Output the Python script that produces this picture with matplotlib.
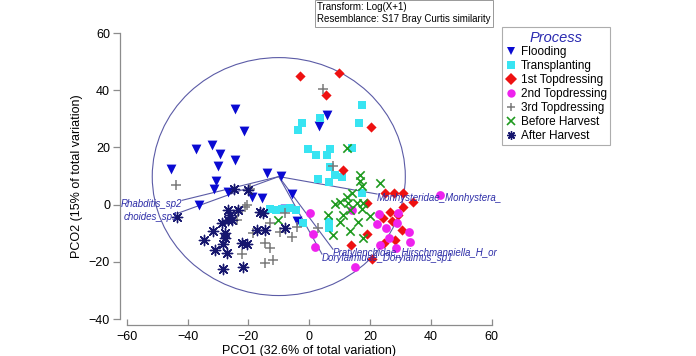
import matplotlib
matplotlib.use("Agg")
import matplotlib.pyplot as plt
from matplotlib.lines import Line2D
from matplotlib.patches import Circle

plt.rcParams['font.family'] = ['Liberation Sans', 'DejaVu Sans']

# ---------------- data ----------------
flood_x = [-45.4, -24.3, -21.4, -37.2, -32.0, -29.3, -29.9, -24.3, -30.6, -31.3, -26.7,
           -13.9, -9.3, -5.7, -18.8, -15.5, -36.2, -7.9, 5.9, 3.2, -4.0]
flood_y = [12.4, 33.4, 25.7, 19.4, 20.8, 17.7, 13.5, 15.6, 8.2, 5.4, 4.4,
           11.0, 10.0, 3.7, 2.6, 2.3, -0.2, -1.6, 31.3, 27.4, -5.8]

trans_x = [17.4, -2.4, -3.7, 3.6, 16.4, -0.4, 2.2, 5.9, 6.8, 14.1, 6.8, 8.5, 10.8, 2.9,
           6.5, 17.4, -12.9, -10.9, -8.9, -6.3, -4.3, -2.0, 6.5, 6.5]
trans_y = [34.8, 28.5, 26.0, 30.2, 28.5, 19.4, 17.3, 17.3, 19.4, 19.8, 13.1, 10.3, 9.6, 8.9,
           7.9, 4.0, -1.6, -1.9, -1.6, -1.2, -1.9, -6.5, -6.1, -8.2]

top1_x = [-3.0, 9.8, 5.5, 20.3, 11.1, 24.9, 27.9, 30.8, 34.1, 30.8, 19.0, 26.6, 29.2,
          24.3, 27.2, 30.5, 19.0, 13.7, 24.6, 20.6, 28.2]
top1_y = [44.9, 46.0, 38.3, 27.1, 12.1, 4.0, 4.0, 4.0, 0.9, -0.9, 0.5, -2.6, -3.7,
          -4.7, -5.8, -8.9, -10.3, -14.2, -13.5, -19.1, -12.4]

top2_x = [43.0, 14.1, 22.9, 29.2, 22.3, 25.2, 28.9, 26.2, 32.8, 33.1, 23.3, 28.6,
          0.3, 1.2, 1.9, 15.0]
top2_y = [3.3, -1.9, -3.3, -3.0, -6.8, -8.2, -6.5, -11.7, -9.6, -13.1, -14.2, -15.2,
          -3.0, -10.3, -14.9, -21.9]

top3_x = [-43.8, 4.5, 7.8, -20.4, -23.4, -19.5, -21.1, -18.5, -14.5, -12.9, -22.1,
          -14.5, -11.9, -9.6, -5.7, -4.0, -8.0, -12.9, 2.9, -23.7]
top3_y = [6.8, 40.4, 13.5, -0.2, -2.6, 5.4, -0.9, -10.0, -13.5, -15.2, -17.3,
          -20.5, -19.4, -9.6, -11.4, -7.9, -3.0, -6.5, -8.2, -5.4]

before_x = [12.4, 16.7, 16.7, 17.4, 23.3, 14.1, 12.4, 10.1, 8.5, 12.8, 15.7, 17.7, 13.4,
            17.4, 6.2, 11.1, 10.1, 16.0, 20.0, 13.4, 7.8, 17.7, -10.3]
before_y = [19.8, 10.3, 8.2, 6.5, 7.5, 4.0, 2.6, 0.9, 0.2, 0.5, 0.5, 0.5, -1.9,
            -1.6, -3.7, -3.7, -6.1, -6.1, -4.0, -9.3, -10.7, -11.7, -5.4]

after_x = [-43.5, -24.7, -20.1, -26.7, -26.0, -26.7, -28.7, -25.4, -23.4, -31.6, -27.7,
           -27.7, -34.6, -31.0, -28.3, -27.0, -22.1, -20.4, -28.3, -21.7, -17.2, -14.5,
           -15.2, -8.0, -16.2]
after_y = [-4.4, 5.4, 5.1, -1.9, -3.7, -5.4, -6.5, -5.4, -1.9, -9.3, -10.0,
           -11.7, -12.4, -15.9, -13.8, -17.0, -13.5, -13.8, -22.6, -21.9, -8.9, -8.9,
           -3.0, -8.2, -2.6]

group_names = ["Flooding", "Transplanting", "1st Topdressing", "2nd Topdressing",
               "3rd Topdressing", "Before Harvest", "After Harvest"]

# vector overlay
circle_center = (-10.0, 9.8)
circle_radius = 41.6
vec_names = ["Rhabditis_sp2", "choides_sp1", "Monhysteridae_Monhystera_",
             "Pratylenchidae_Hirschmanniella_H_or", "Dorylaimidae_Dorylaimus_sp1"]
vec_x = [-41.8, -43.1, 22.3, 7.8, 4.2]
vec_y = [1.5, -3.0, 3.7, -15.6, -17.3]

x_ticks = [-60, -40, -20, 0, 20, 40, 60]
y_ticks = [-40, -20, 0, 20, 40, 60]

# ---------------- figure ----------------
fig = plt.figure(figsize=(6.96, 3.56), dpi=100)
ax = fig.add_axes([126.7 / 696, 37 / 356, 365 / 696, 286 / 356])
ax.set_xlim(-60, 60)
ax.set_ylim(-40, 60)

styles = [
    dict(marker='v', color='#0a0ad2', s=50, lw=0),
    dict(marker='s', color='#38e4f2', s=38, lw=0),
    dict(marker='D', color='#ee1111', s=27, lw=0),
    dict(marker='o', color='#ee22ee', s=40, lw=0),
    dict(marker='+', color='#7a7a7a', s=60, lw=1.1),
    dict(marker='x', color='#1f9a1f', s=36, lw=1.2),
    dict(marker=(8, 2, 0), color='#16166e', s=55, lw=1.0),
]
xs = [flood_x, trans_x, top1_x, top2_x, top3_x, before_x, after_x]
ys = [flood_y, trans_y, top1_y, top2_y, top3_y, before_y, after_y]

for gx, gy, st in zip(xs, ys, styles):
    ax.scatter(gx, gy, marker=st['marker'], c=st['color'], s=st['s'],
               linewidths=st['lw'], zorder=3, clip_on=False)

# circle and vectors
vcol = '#5b5ba6'
ax.add_patch(Circle(circle_center, circle_radius, fill=False, edgecolor=vcol,
                    lw=0.8, zorder=2))
for name, vx, vy in zip(vec_names, vec_x, vec_y):
    ax.plot([circle_center[0], vx], [circle_center[1], vy], color=vcol, lw=0.8, zorder=2)
    if vx < circle_center[0]:
        ax.text(vx, vy - 1.2, name, ha='right', va='center', fontsize=7, style='italic',
                color='#2e2ea8', zorder=4, clip_on=False)
    else:
        ax.text(vx, vy - 1.4, name, ha='left', va='center', fontsize=7, style='italic',
                color='#2e2ea8', zorder=4, clip_on=False)

# axes styling (range frame)
for side in ['top', 'right']:
    ax.spines[side].set_visible(False)
ax.spines['left'].set_position(('outward', 5))
ax.spines['bottom'].set_position(('outward', 4.3))
ax.spines['left'].set_bounds(-40, 60)
ax.spines['bottom'].set_bounds(-60, 60)
for side in ['left', 'bottom']:
    ax.spines[side].set_color('#8c8c8c')
    ax.spines[side].set_linewidth(0.9)
ax.set_xticks(x_ticks)
ax.set_yticks(y_ticks)
ax.tick_params(axis='y', direction='out', length=5, width=0.9, color='#8c8c8c',
               labelsize=9, pad=2)
ax.tick_params(axis='x', direction='in', length=4, width=0.9, color='#8c8c8c',
               labelsize=9, pad=4)
ax.set_xlabel("PCO1 (32.6% of total variation)", fontsize=9, labelpad=2)
ax.set_ylabel("PCO2 (15% of total variation)", fontsize=9, labelpad=4)
ax.patch.set_visible(False)

# header box
fig.text(317 / 696, 1 - 2 / 356,
         "Transform: Log(X+1)\nResemblance: S17 Bray Curtis similarity",
         ha='left', va='top', fontsize=7, linespacing=1.3,
         bbox=dict(boxstyle='square,pad=0.25', fc='white', ec='#999999', lw=0.7))

# legend
handles = []
for name, st in zip(group_names, styles):
    handles.append(Line2D([], [], linestyle='none', marker=st['marker'],
                          color=st['color'], markersize=6,
                          markeredgewidth=(st['lw'] if st['lw'] > 0 else 0)))
leg = fig.legend(handles, group_names, loc='upper left',
                 bbox_to_anchor=(502 / 696, 1 - 27 / 356), borderaxespad=0,
                 fontsize=8.5, title='Process', frameon=True, fancybox=False,
                 handlelength=0.9, handletextpad=0.4, labelspacing=0.16,
                 borderpad=0.3)
leg.get_title().set_color('#2a2ab0')
leg.get_title().set_fontstyle('italic')
leg.get_title().set_fontsize(10.5)
leg.get_frame().set_edgecolor('#999999')
leg.get_frame().set_linewidth(0.8)

fig.savefig('out.png', dpi=100)
